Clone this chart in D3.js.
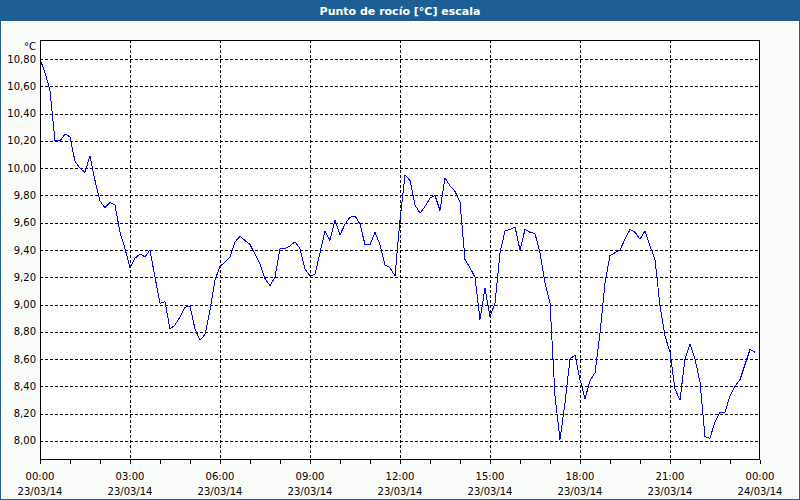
<!DOCTYPE html>
<html><head><meta charset="utf-8">
<script src="https://cdn.jsdelivr.net/npm/d3@7"></script>
<style>
html,body{margin:0;padding:0;background:#fafcfa;}
svg{display:block;}
text{font-family:"DejaVu Sans",sans-serif;}
</style></head>
<body><svg id="c" width="800" height="500"></svg>
<script>
const title = "Punto de rocío [°C] escala";
const unit = "°C";
const startTime = "2014-03-23T00:00:00";
const stepMinutes = 10;
const dewPoint = [
10.80,10.70,10.57,10.20,10.20,10.25,10.23,10.05,10.00,9.97,
10.09,9.91,9.76,9.71,9.75,9.73,9.53,9.41,9.27,9.34,
9.37,9.35,9.40,9.20,9.01,9.02,8.82,8.85,8.91,8.98,
8.99,8.82,8.74,8.78,8.96,9.18,9.28,9.31,9.35,9.46,
9.50,9.47,9.44,9.37,9.30,9.19,9.14,9.20,9.41,9.41,
9.43,9.46,9.41,9.26,9.21,9.22,9.38,9.54,9.47,9.62,
9.51,9.59,9.64,9.65,9.59,9.44,9.44,9.53,9.44,9.29,
9.27,9.21,9.62,9.95,9.91,9.73,9.67,9.72,9.78,9.80,
9.69,9.93,9.87,9.83,9.75,9.33,9.27,9.20,8.89,9.12,
8.91,9.01,9.38,9.54,9.55,9.57,9.40,9.55,9.53,9.52,
9.38,9.16,9.01,8.33,8.01,8.28,8.60,8.63,8.45,8.31,
8.44,8.50,8.79,9.16,9.36,9.38,9.40,9.48,9.55,9.53,
9.48,9.54,9.43,9.33,8.99,8.77,8.65,8.38,8.30,8.60,
8.71,8.60,8.43,8.03,8.02,8.14,8.21,8.21,8.33,8.40,
8.45,8.56,8.67,8.65
];
const yTicks = [8.00,8.20,8.40,8.60,8.80,9.00,9.20,9.40,9.60,9.80,10.00,10.20,10.40,10.60,10.80];
const xTickTimes = ["00:00","03:00","06:00","09:00","12:00","15:00","18:00","21:00","00:00"];
const xTickDates = ["23/03/14","23/03/14","23/03/14","23/03/14","23/03/14","23/03/14","23/03/14","23/03/14","24/03/14"];

const svg = d3.select("#c");
const W = 800, H = 500;
const L = 40, R = 760, T = 40, B = 460;

svg.append("rect").attr("x",0.5).attr("y",0.5).attr("width",W-1).attr("height",H-1)
  .attr("fill","#fafcfa").attr("stroke","#1d5f95");
svg.append("rect").attr("x",0).attr("y",0).attr("width",W).attr("height",21).attr("fill","#1d5f95");
svg.append("text").attr("x",400).attr("y",11).attr("text-anchor","middle").attr("dominant-baseline","central")
  .attr("fill","#ffffff").attr("font-weight","bold").attr("font-size","11px").text(title);

const t0 = new Date(startTime);
const t1 = d3.timeDay.offset(t0,1);
const x = d3.scaleTime().domain([t0,t1]).range([L,R]);
const y = d3.scaleLinear().domain([7.86,10.94]).range([B,T]);

svg.append("rect").attr("x",L).attr("y",T).attr("width",R-L).attr("height",B-T).attr("fill","#ffffff");

const g = svg.append("g").attr("shape-rendering","crispEdges");
g.selectAll(".hg").data(yTicks).join("line")
  .attr("x1",L).attr("x2",R).attr("y1",d=>Math.round(y(d))+0.5).attr("y2",d=>Math.round(y(d))+0.5)
  .attr("stroke","#000").attr("stroke-dasharray","3,2");
const majorTimes = d3.range(1,8).map(i=>d3.timeHour.offset(t0,i*3));
g.selectAll(".vg").data(majorTimes).join("line")
  .attr("y1",T).attr("y2",B).attr("x1",d=>Math.round(x(d))+0.5).attr("x2",d=>Math.round(x(d))+0.5)
  .attr("stroke","#000").attr("stroke-dasharray","3,2");

const fmt = d => d3.format(".2f")(d).replace(".",",");
svg.append("g").selectAll("text").data(yTicks).join("text")
  .attr("x",36).attr("y",d=>y(d)).attr("text-anchor","end").attr("dominant-baseline","central")
  .attr("font-size","10px").attr("fill","#000").text(fmt);
svg.append("text").attr("x",36).attr("y",46).attr("text-anchor","end").attr("dominant-baseline","central")
  .attr("font-size","10px").attr("fill","#000").text(unit);

const xAxis = d3.axisBottom(x).ticks(d3.timeHour.every(1)).tickSize(4).tickFormat("");
const xa = svg.append("g").attr("transform",`translate(0,${B})`).attr("shape-rendering","crispEdges").call(xAxis);
xa.select(".domain").remove();
xa.selectAll("line").attr("stroke","#000");
const labelTimes = d3.range(0,9).map(i=>d3.timeHour.offset(t0,i*3));
svg.append("g").selectAll("text").data(labelTimes).join("text")
  .attr("x",d=>x(d)).attr("y",476).attr("text-anchor","middle").attr("dominant-baseline","central")
  .attr("font-size","10px").attr("fill","#000").text((d,i)=>xTickTimes[i]);
svg.append("g").selectAll("text").data(labelTimes).join("text")
  .attr("x",d=>x(d)).attr("y",491).attr("text-anchor","middle").attr("dominant-baseline","central")
  .attr("font-size","10px").attr("fill","#000").text((d,i)=>xTickDates[i]);

const pts = dewPoint.map((v,i)=>({t:d3.timeMinute.offset(t0,i*stepMinutes), v}));
svg.append("path").datum(pts)
  .attr("d", d3.line().x(d=>x(d.t)).y(d=>y(d.v)))
  .attr("fill","none").attr("stroke","#0000ff").attr("stroke-width",1)
  .attr("shape-rendering","crispEdges");

svg.append("rect").attr("x",L+0.5).attr("y",T+0.5).attr("width",R-L-1).attr("height",B-T-1)
  .attr("fill","none").attr("stroke","#000").attr("shape-rendering","crispEdges");
</script></body></html>
